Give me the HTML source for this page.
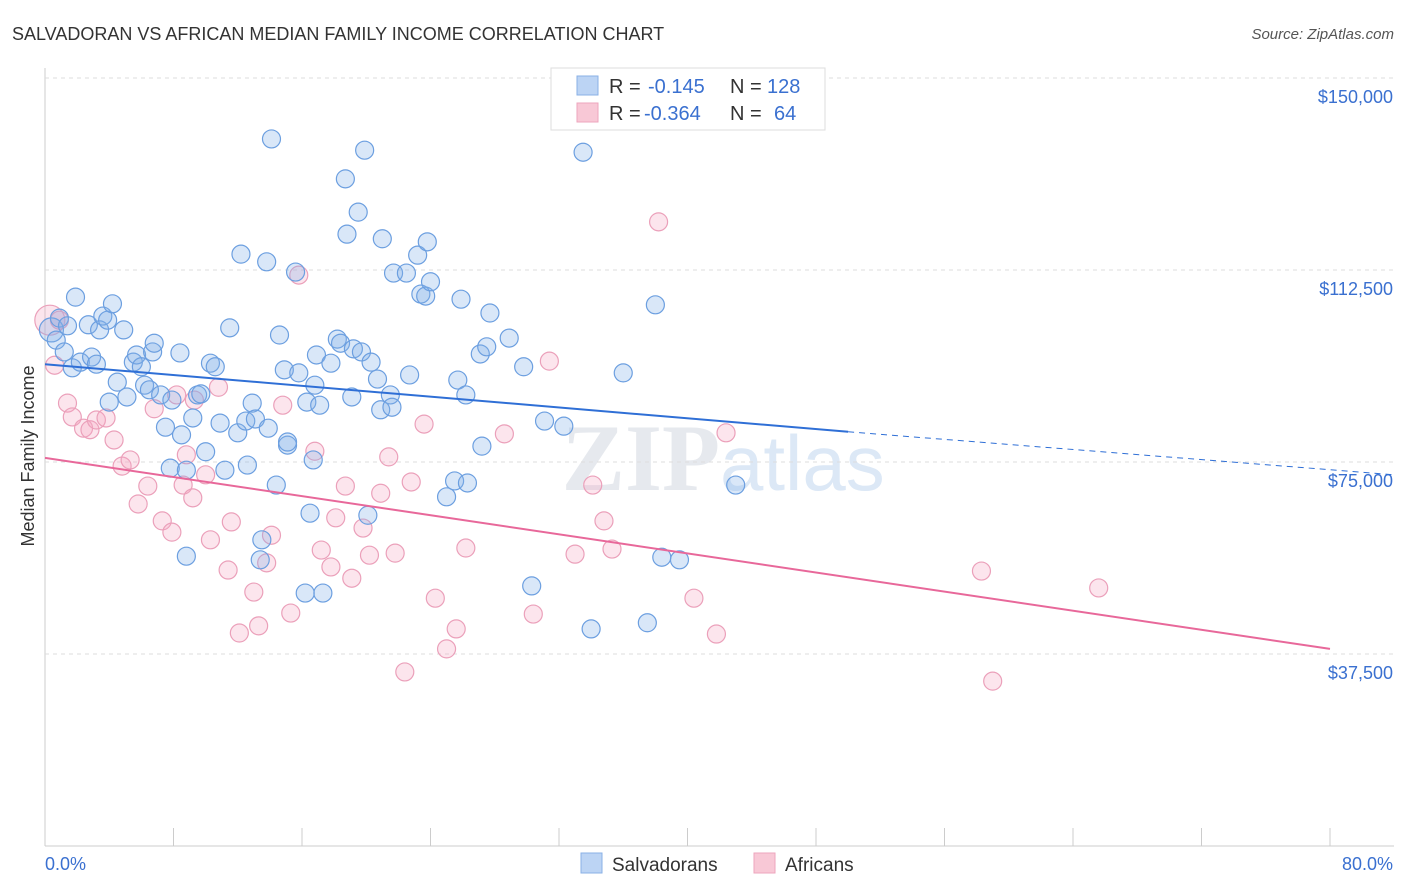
<!DOCTYPE html>
<html><head><meta charset="utf-8"><style>
body{margin:0;background:#fff;font-family:"Liberation Sans",sans-serif;}
svg{display:block}
</style></head><body>
<svg id="chart" width="1406" height="892">
<text x="12" y="40" font-size="18" fill="#333">SALVADORAN VS AFRICAN MEDIAN FAMILY INCOME CORRELATION CHART</text>
<text x="1394" y="39" font-size="15" fill="#555" font-style="italic" text-anchor="end">Source: ZipAtlas.com</text>
<text x="720" y="490" font-size="95" fill="#e6e9ee" text-anchor="end" font-family="Liberation Serif" font-weight="bold">ZIP</text>
<text x="720" y="490" font-size="78" fill="#dce8f6">atlas</text>
<g id="grid"></g>
<g id="pts"></g>
<g id="lines"></g>
<text transform="translate(34,456) rotate(-90)" font-size="18" fill="#333" text-anchor="middle">Median Family Income</text>
<text x="45" y="870" font-size="18" fill="#3a70d0">0.0%</text>
<text x="1393" y="870" font-size="18" fill="#3a70d0" text-anchor="end">80.0%</text>
<g>
<rect x="551" y="68" width="274" height="62" fill="#fff" stroke="#ddd"/>
<rect x="577" y="76" width="21" height="19" fill="#bcd4f4" stroke="#8ab0e6"/>
<rect x="577" y="103" width="21" height="19" fill="#f8c8d6" stroke="#eea6bd"/>
<text x="609" y="93" font-size="20" fill="#333">R = </text><text x="648" y="93" font-size="20" fill="#3a70d0">-0.145</text>
<text x="730" y="93" font-size="20" fill="#333">N = </text><text x="767" y="93" font-size="20" fill="#3a70d0">128</text>
<text x="609" y="120" font-size="20" fill="#333">R = </text><text x="644" y="120" font-size="20" fill="#3a70d0">-0.364</text>
<text x="730" y="120" font-size="20" fill="#333">N = </text><text x="774" y="120" font-size="20" fill="#3a70d0">64</text>
</g>
<g>
<rect x="581" y="853" width="21" height="20" fill="#bcd4f4" stroke="#8ab0e6"/>
<text x="612" y="871" font-size="19" fill="#333">Salvadorans</text>
<rect x="754" y="853" width="21" height="20" fill="#f8c8d6" stroke="#eea6bd"/>
<text x="785" y="871" font-size="19" fill="#333">Africans</text>
</g>
</svg>
<script>
const yTicks=[37500,75000,112500,150000];
const yTickLabels=["$37,500","$75,000","$112,500","$150,000"];
const xTicks=[8,16,24,32,40,48,56,64,72,80];
const blueX=[0.4,0.9,0.7,1.4,1.9,1.2,1.7,2.2,2.7,2.9,3.2,3.4,3.6,3.9,4.2,4.9,4.0,4.5,5.1,5.5,5.7,6.0,6.2,6.5,6.7,6.8,7.2,7.5,7.9,8.4,8.5,7.8,8.8,8.8,9.2,9.5,9.7,10.0,10.3,10.6,10.9,11.2,11.5,12.0,12.2,12.5,12.6,12.9,13.1,13.4,13.5,13.8,13.9,14.1,14.4,14.6,14.9,15.1,15.1,15.6,15.8,16.3,16.5,16.8,16.9,17.1,16.2,17.3,16.7,17.8,18.2,18.4,18.7,18.8,19.1,19.2,19.5,19.7,19.9,20.1,20.3,20.7,20.9,21.0,21.5,21.6,21.7,22.5,22.7,23.2,23.4,23.7,23.8,24.0,25.0,25.5,25.7,25.9,26.2,26.3,27.1,27.2,27.5,27.7,28.9,29.8,30.3,31.1,32.3,33.5,34.0,36.0,37.5,38.0,38.4,39.5,43.0];
const blueY=[100.8,103.1,98.8,101.6,107.2,96.5,93.4,94.5,101.8,95.5,94.1,100.8,103.5,102.7,105.9,100.8,86.7,90.6,87.7,94.5,95.9,93.6,90.0,89.1,96.5,98.2,88.1,81.8,87.1,96.3,80.3,73.8,73.4,56.6,83.6,88.1,88.3,77.0,94.3,93.6,82.6,73.4,101.2,80.7,115.6,83.0,74.4,86.5,83.4,55.9,59.8,114.1,81.6,138.1,70.5,99.8,93.0,78.3,78.9,112.1,92.4,86.7,65.0,90.0,95.9,86.1,49.4,49.4,75.4,94.3,99.0,98.2,130.3,119.5,87.7,97.1,123.8,96.5,135.9,64.6,94.5,91.2,85.2,118.6,88.1,85.7,111.9,111.9,92.0,115.4,107.8,107.4,118.0,110.2,68.2,71.3,91.0,106.8,88.1,70.9,96.1,78.1,97.5,104.1,99.2,93.6,50.8,83.0,82.0,135.5,42.4,92.4,43.6,105.7,56.4,55.9,70.5];
const pinkX=[0.3,0.6,0.9,1.4,1.7,2.4,2.8,3.2,3.8,4.3,4.8,5.3,5.8,6.4,6.8,7.3,7.9,8.2,8.6,8.8,9.2,9.3,10.0,10.3,10.8,11.4,11.6,12.1,13.0,13.3,13.8,14.1,14.8,15.3,15.8,16.8,17.2,17.8,18.1,18.7,19.1,19.8,20.2,20.9,21.4,21.8,22.8,23.6,24.3,25.0,25.6,26.2,22.4,28.6,30.4,31.4,33.0,34.1,34.8,35.3,38.2,40.4,41.8,42.4,58.3,59.0,65.6];
const pinkY=[102.7,93.9,102.7,86.5,83.8,81.6,81.3,83.2,83.6,79.3,74.2,75.4,66.8,70.3,85.4,63.5,61.3,88.1,70.5,76.4,68.0,87.1,72.5,59.8,89.6,53.9,63.3,41.6,49.6,43.0,55.3,60.7,86.1,45.5,111.5,77.1,57.8,54.5,64.1,70.3,52.3,62.1,56.8,68.9,76.0,57.2,71.1,82.4,48.4,38.5,42.4,58.2,34.0,80.5,45.3,94.7,57.0,70.5,63.5,58.0,121.9,48.4,41.4,80.7,53.7,32.2,50.4];
const blueTrend=[94.1,80.9,72.5];
const blueTrendX=[0,50,84];
const pinkTrend=[75.8,38.5];
const pinkTrendX=[0,80];
const NS='http://www.w3.org/2000/svg';
const sx=v=>45+v/80*1285;
const sy=v=>846-v/37500*192;
function mk(t,a,p){const e=document.createElementNS(NS,t);for(const k in a)e.setAttribute(k,a[k]);p.appendChild(e);return e;}
const grid=document.getElementById('grid');
mk('line',{x1:45,y1:68,x2:45,y2:846,stroke:'#ccc'},grid);
mk('line',{x1:45,y1:846,x2:1394,y2:846,stroke:'#ccc'},grid);
yTicks.forEach((v,i)=>{
 const l=mk('line',{x1:45,y1:sy(v),x2:1394,y2:sy(v),stroke:'#ddd','stroke-dasharray':'4,4'},grid);
 
 
 const t=mk('text',{x:1393,y:sy(v)+25,'font-size':18,fill:'#3a70d0','text-anchor':'end'},grid);
 t.textContent=yTickLabels[i];
 
 
});
xTicks.forEach(v=>{
 const l=mk('line',{x1:sx(v),y1:828,x2:sx(v),y2:846,stroke:'#ccc'},grid);
 
 
});
const pts=document.getElementById('pts');
pinkX.forEach((x,i)=>{
 const c=mk('circle',{cx:sx(x),cy:sy(pinkY[i]*1000),r:i==0?15:9,fill:'rgba(244,170,196,0.3)',stroke:'#eba0ba','stroke-width':1.2},pts);
 
 
});
blueX.forEach((x,i)=>{
 const c=mk('circle',{cx:sx(x),cy:sy(blueY[i]*1000),r:i==0?12:9,fill:'rgba(130,176,232,0.3)',stroke:'#6c9fe0','stroke-width':1.2},pts);
 
 
});
const lines=document.getElementById('lines');
const b1=mk('line',{x1:sx(blueTrendX[0]),y1:sy(blueTrend[0]*1000),x2:sx(blueTrendX[1]),y2:sy(blueTrend[1]*1000),stroke:'#2f6fd6','stroke-width':2},lines);


const b2=mk('line',{x1:sx(blueTrendX[1]),y1:sy(blueTrend[1]*1000),x2:sx(blueTrendX[2]),y2:sy(blueTrend[2]*1000),stroke:'#2f6fd6','stroke-width':1,'stroke-dasharray':'6,5'},lines);


const p1=mk('line',{x1:sx(pinkTrendX[0]),y1:sy(pinkTrend[0]*1000),x2:sx(pinkTrendX[1]),y2:sy(pinkTrend[1]*1000),stroke:'#e8689a','stroke-width':2},lines);


</script>
</body></html>
